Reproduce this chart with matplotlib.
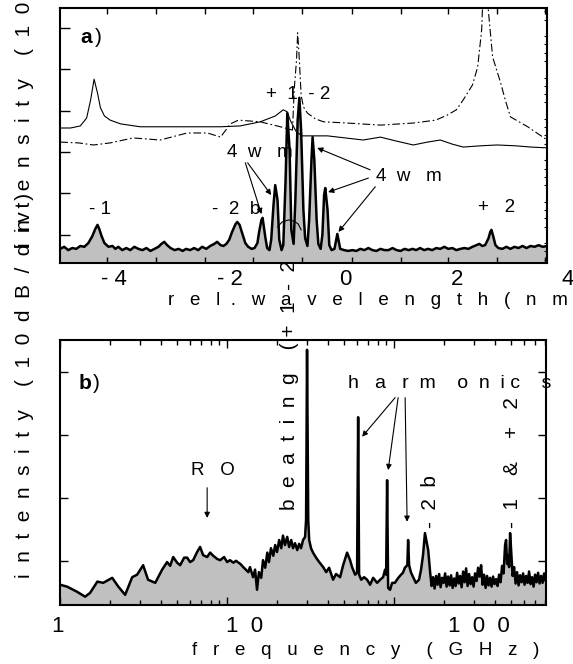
import matplotlib.pyplot as plt
import numpy as np

plt.rcParams['font.family'] = ['Liberation Sans', 'DejaVu Sans']

# ---- (a) optical spectra: relative wavelength (nm) vs level (dB) ----
spec_a_nm = [-4.96, -4.89, -4.82, -4.75, -4.68, -4.61, -4.54, -4.47, -4.40, -4.35,
             -4.31, -4.28, -4.24, -4.19, -4.12, -4.05, -4.00, -3.95, -3.88, -3.81,
             -3.74, -3.67, -3.60, -3.53, -3.46, -3.39, -3.32, -3.25, -3.20, -3.15,
             -3.10, -3.04, -2.97, -2.90, -2.83, -2.77, -2.70, -2.63, -2.56, -2.49,
             -2.42, -2.35, -2.28, -2.23, -2.17, -2.12, -2.07, -2.02, -1.97, -1.91,
             -1.88, -1.84, -1.79, -1.74, -1.69, -1.63, -1.58, -1.53, -1.50, -1.46,
             -1.44, -1.43, -1.39, -1.36, -1.32, -1.29, -1.25, -1.22, -1.18, -1.15,
             -1.11, -1.08, -1.04, -1.01, -0.97, -0.94, -0.90, -0.87, -0.83, -0.80,
             -0.77, -0.73, -0.70, -0.66, -0.63, -0.59, -0.57, -0.54, -0.50, -0.47,
             -0.43, -0.40, -0.37, -0.35, -0.31, -0.28, -0.24, -0.19, -0.16, -0.14,
             -0.12, -0.09, -0.02, 0.05, 0.12, 0.19, 0.26, 0.33, 0.40, 0.47,
             0.54, 0.61, 0.68, 0.75, 0.82, 0.89, 0.96, 1.03, 1.10, 1.17,
             1.23, 1.30, 1.37, 1.44, 1.51, 1.58, 1.65, 1.72, 1.79, 1.86,
             1.93, 2.00, 2.07, 2.14, 2.21, 2.28, 2.33, 2.38, 2.43, 2.49,
             2.52, 2.54, 2.57, 2.61, 2.66, 2.73, 2.80, 2.87, 2.94, 3.01,
             3.08, 3.15, 3.22, 3.29, 3.36, 3.43, 3.51]
spec_a_db = [3.4, 3.9, 3.1, 3.6, 3.4, 4.1, 3.9, 4.8, 6.5, 8.2,
             9.2, 8.2, 6.5, 4.8, 3.9, 4.1, 3.4, 3.9, 3.1, 3.6,
             3.1, 3.9, 3.4, 3.1, 3.6, 2.9, 3.4, 3.9, 4.6, 5.1,
             4.3, 3.6, 3.1, 3.4, 2.9, 3.4, 3.1, 3.6, 3.1, 3.9,
             3.4, 4.1, 4.6, 5.1, 4.3, 4.1, 4.6, 5.6, 7.5, 9.4,
             9.9, 9.2, 7.0, 4.8, 3.9, 3.4, 3.6, 4.8, 7.5, 10.4,
             10.9, 9.9, 6.0, 3.6, 3.1, 5.6, 14.0, 18.8, 15.2, 5.6,
             3.1, 4.3, 20.0, 36.2, 27.3, 8.0, 4.6, 15.2, 34.5, 39.9,
             32.1, 12.8, 6.0, 4.1, 10.4, 24.9, 30.4, 24.9, 10.4, 4.6,
             3.4, 6.8, 16.4, 18.1, 12.8, 4.3, 3.1, 3.4, 5.6, 7.0,
             5.6, 3.4, 3.1, 2.9, 3.1, 2.9, 3.4, 3.1, 3.6, 3.1,
             2.9, 3.4, 3.1, 3.1, 3.6, 3.1, 2.9, 3.4, 3.1, 3.4,
             3.1, 3.6, 3.1, 3.4, 3.1, 3.6, 3.4, 3.9, 3.4, 3.6,
             3.1, 3.4, 3.6, 3.4, 3.9, 4.3, 4.6, 4.1, 4.3, 6.0,
             7.5, 8.0, 6.5, 4.3, 3.6, 3.4, 3.9, 3.4, 3.9, 3.6,
             4.1, 3.6, 4.1, 3.9, 4.3, 3.9, 4.1]

# laser 1 (solid) and laser 2 (dash-dot) reference spectra
solo1_nm = [-4.96, -4.78, -4.61, -4.50, -4.43, -4.37, -4.31, -4.26, -4.19, -4.09,
            -3.91, -3.57, -2.87, -2.17, -1.83, -1.48, -1.22, -1.08, -1.01, -0.96,
            -0.90, -0.85, -0.75, -0.56, -0.31, 0.00, 0.31, 0.61, 0.87, 1.18,
            1.43, 1.65, 1.86, 2.05, 2.35, 2.64, 2.96, 3.22, 3.51]
solo1_db = [32.6, 32.6, 33.1, 35.0, 39.4, 44.4, 41.0, 37.5, 35.5, 34.5,
            33.6, 32.9, 32.9, 32.9, 33.1, 34.1, 35.5, 37.0, 36.5, 34.5,
            32.9, 31.6, 30.7, 30.7, 30.7, 30.2, 29.7, 30.4, 29.5, 28.5,
            29.2, 29.7, 28.7, 28.0, 28.3, 28.5, 28.3, 28.0, 27.8]
solo2_nm = [-4.96, -4.64, -4.38, -4.09, -3.69, -3.22, -2.75, -2.40, -2.17, -2.00,
            -1.86, -1.48, -1.13, -0.92, -0.89, -0.85, -0.83, -0.80, -0.77, -0.73,
            -0.66, -0.52, -0.38, 0.03, 0.61, 1.18, 1.57, 1.77, 1.93, 2.05,
            2.21, 2.30, 2.37, 2.42, 2.47, 2.56, 2.70, 2.78, 2.87, 3.17, 3.51]
solo2_db = [29.2, 29.0, 28.5, 29.0, 30.2, 29.7, 31.4, 31.4, 30.4, 33.6,
            34.5, 34.1, 32.9, 32.1, 41.8, 49.0, 55.6, 49.0, 40.6, 37.7,
            36.2, 34.8, 34.1, 33.8, 33.3, 33.8, 34.5, 35.7, 37.0, 39.4,
            43.0, 47.3, 56.3, 75.0, 63.5, 49.8, 43.5, 39.4, 35.3, 32.9, 29.7]
arc_nm = [-1.18, -1.10, -0.99, -0.89, -0.82, -0.77]
arc_db = [8.7, 9.9, 10.4, 10.1, 9.4, 8.0]

xtick_a = [-4.14, -3.29, -2.44, -1.60, -0.75, 0.12, 0.96, 1.79, 2.63, 3.48]
xlab_a = ['- 4', '- 2', '0', '2', '4']
xlab_a_pos = [-4.03, -2.0, 0.0, 1.95, 3.86]
ytick_a = [6.8, 16.8, 26.8, 36.8, 46.8, 56.8]

# ---- (b) RF spectrum: frequency (GHz) vs level (dB) ----
rf_ghz = [1.00, 1.10, 1.26, 1.41, 1.51, 1.67, 1.81, 2.05, 2.23, 2.45,
          2.70, 2.89, 3.14, 3.36, 3.71, 4.08, 4.37, 4.56, 4.75, 5.02,
          5.23, 5.53, 5.76, 6.00, 6.26, 6.61, 6.89, 7.18, 7.59, 7.91,
          8.25, 8.71, 9.08, 9.59, 10.0, 10.4, 10.9, 11.3, 12.0, 12.6,
          13.4, 13.7, 14.3, 14.7, 15.1, 15.5, 16.0, 16.4, 16.9, 17.4,
          17.8, 18.3, 18.9, 19.4, 19.9, 20.5, 21.1, 21.6, 22.2, 22.9,
          23.5, 24.2, 24.8, 25.5, 26.3, 27.0, 27.7, 28.5, 29.3, 29.7,
          30.1, 30.6, 31.0, 31.8, 32.7, 34.1, 35.6, 37.6, 39.2, 40.8,
          43.1, 44.9, 47.5, 49.5, 52.3, 54.5, 56.0, 58.4, 60.0, 60.9,
          61.7, 63.5, 66.1, 68.9, 71.8, 74.9, 79.1, 82.5, 85.9, 88.3,
          89.6, 90.8, 92.1, 94.6, 97.3, 101, 106, 110, 113, 116,
          120, 121.3, 123, 126, 130, 135, 141, 145, 149, 153,
          158, 160,
          164.3, 167.7, 171.2, 174.8, 178.5, 182.2, 186.1, 189.9, 193.9, 197.9,
          202.1, 206.3, 210.6, 215.0, 219.5, 224.1, 228.8, 233.6, 238.4, 243.4,
          248.5, 253.7, 259.0, 264.4, 269.9, 275.5, 281.3, 287.2, 293.2, 299.2,
          305.5, 311.9, 318.4, 325.1, 331.9, 338.8, 345.8, 353.1, 360.5, 368.0,
          375.7, 383.5, 391.5, 399.7, 408.1, 416.6, 425.3, 434.2, 443.3, 452.5,
          462.0, 468.5, 474.9, 481.5, 488.2, 495.0, 501.9, 512.4, 523.1, 534.0,
          545.1, 556.5, 568.2, 580.1, 592.2, 604.5, 617.2, 630.1, 643.2, 656.7,
          670.4, 684.4, 698.8, 713.4, 728.3, 743.6, 759.1, 775.0, 791.2, 807.8,
          813]
rf_db = [3.2, 2.9, 2.1, 1.3, 1.9, 3.7, 3.5, 4.3, 2.9, 1.6,
         4.4, 4.8, 6.3, 4.0, 3.5, 5.6, 6.8, 6.2, 7.6, 6.7,
         6.3, 7.5, 7.5, 6.8, 7.1, 8.4, 9.2, 7.9, 7.6, 8.3,
         7.8, 7.3, 7.1, 7.6, 6.8, 7.1, 6.7, 7.0, 6.5, 5.9,
         5.2, 6.0, 4.4, 5.6, 2.4, 5.2, 4.3, 7.1, 5.9, 8.3,
         6.8, 9.0, 7.8, 9.5, 8.4, 10.3, 9.0, 11.0, 9.5, 10.8,
         9.2, 10.3, 9.0, 9.8, 8.7, 9.7, 9.0, 10.3, 10.8, 13.5,
         40.5, 13.5, 10.3, 9.0, 8.3, 7.5, 6.8, 6.0, 5.2, 5.9,
         4.0, 4.9, 4.4, 6.3, 8.3, 7.1, 6.0, 4.8, 5.1, 29.8,
         4.8, 4.0, 4.4, 4.0, 3.2, 4.3, 3.5, 4.0, 4.4, 5.6,
         4.8, 19.8, 2.7, 2.4, 3.5, 3.5, 4.3, 4.8, 5.1, 5.9,
         6.3, 10.3, 6.3, 5.2, 4.4, 3.5, 4.0, 5.6, 7.9, 11.4,
         9.5, 8.7,
         5.2, 3.0, 4.4, 2.6, 4.6, 3.2, 4.9, 2.8, 4.3, 3.5,
         5.0, 2.9, 4.5, 3.1, 4.7, 2.7, 4.2, 3.0, 5.1, 3.4,
         4.6, 2.8, 5.3, 3.6, 5.8, 3.0, 4.9, 3.3, 4.4, 2.9,
         5.0, 3.8, 5.9, 4.5, 6.3, 3.2, 4.8, 2.7, 4.6, 3.1,
         4.3, 2.9, 4.5, 3.3, 4.1, 3.0, 4.8, 3.6, 6.2, 5.0,
         9.5, 10.3, 6.5, 7.8, 6.0, 11.4, 8.8, 4.6, 6.0, 3.4,
         5.2, 3.1, 4.7, 3.6, 5.0, 3.2, 4.6, 3.5, 5.3, 3.3,
         4.4, 2.9, 4.8, 3.6, 5.1, 3.4, 4.6, 3.5, 5.0, 3.8,
         4.4]

xlab_b = ['1', '1  0', '1  0  0']
xlab_b_pos = [0.97, 12.8, 323]
ytick_b = [7, 17, 27, 37]

GREY = '#c0c0c0'
ylab = 'i  n  t  e  n  s  i  t  y    (  1  0  d  B  /  d  i v  )'

fig = plt.figure(figsize=(5.73, 6.64), dpi=100)
ax_a = fig.add_axes([0.105, 0.604, 0.850, 0.384])
ax_b = fig.add_axes([0.105, 0.089, 0.848, 0.399])
ax_a.set_zorder(2)

# ---------------- panel a ----------------
ax_a.fill_between(spec_a_nm, spec_a_db, 0, color=GREY, lw=0, zorder=1)
ax_a.plot(spec_a_nm, spec_a_db, color='k', lw=1.8, zorder=4)
ax_a.plot(solo1_nm, solo1_db, color='k', lw=0.8, zorder=3)
ax_a.plot(solo2_nm, solo2_db, color='k', lw=0.8, ls=(0, (7, 2.5, 1.5, 2.5)), zorder=3)
ax_a.plot(arc_nm, arc_db, color='k', lw=0.8, zorder=3)
ax_a.set_xlim(-4.96, 3.51)
ax_a.set_ylim(0, 61.6)
ax_a.set_xticks(xtick_a)
ax_a.set_yticks(ytick_a)
ax_a.set_yticks(np.arange(0.8, 61.6, 2.0), minor=True)
ax_a.tick_params(which='both', direction='in', labelbottom=False, labelleft=False)
ax_a.tick_params(axis='x', which='major', top=True, bottom=True, length=4, width=1)
ax_a.tick_params(axis='y', which='major', left=True, right=False, length=7, width=1)
ax_a.tick_params(axis='y', which='minor', left=False, right=True, length=2.5, width=0.8)
for s in ax_a.spines.values():
    s.set_linewidth(1.5)
for pos, lab in zip(xlab_a_pos, xlab_a):
    ax_a.text(pos, -4.1, lab, ha='center', va='center', fontsize=16, clip_on=False)

ax_a.text(0.041, 0.886, 'a', transform=ax_a.transAxes, fontsize=15,
          fontweight='bold', va='center')
ax_a.text(0.072, 0.886, ')', transform=ax_a.transAxes, fontsize=15, va='center')

tk = dict(fontsize=13.5, ha='center', va='center', zorder=2)
ax_a.text(-4.26, 12.8, '- 1', **tk)
ax_a.text(-1.90, 12.8, '-  2  b', **tk)
ax_a.text(2.63, 13.3, '+   2', **tk)
ax_a.text(-0.82, 40.6, '+  1  - 2', **tk)
ax_a.text(-1.48, 26.6, '4  w   m', **tk)
ax_a.text(1.10, 20.8, '4  w   m', **tk)

arr = dict(arrowstyle='-|>', color='k', lw=0.8, mutation_scale=8,
           shrinkA=0, shrinkB=0)
for start, end in [((-1.70, 24.2), (-1.29, 16.4)),
                   ((-1.74, 24.2), (-1.46, 11.8)),
                   ((0.43, 22.5), (-0.49, 27.8)),
                   ((0.40, 20.5), (-0.30, 17.1)),
                   ((0.52, 18.4), (-0.12, 7.5))]:
    ax_a.annotate('', xy=end, xytext=start, arrowprops=arr, zorder=5)

# ---------------- panel b ----------------
ax_b.fill_between(rf_ghz, rf_db, 0, color=GREY, lw=0, zorder=1)
ax_b.plot(rf_ghz, rf_db, color='k', lw=1.8, zorder=4)
ax_b.set_xscale('log')
ax_b.set_xlim(1, 813)
ax_b.set_ylim(0, 42.06)
ax_b.set_yticks(ytick_b)
ax_b.tick_params(which='both', direction='in', top=True, right=True,
                 labelbottom=False, labelleft=False)
ax_b.tick_params(which='major', length=6, width=1)
ax_b.tick_params(which='minor', length=3.5, width=1)
for s in ax_b.spines.values():
    s.set_linewidth(1.5)
for pos, lab in zip(xlab_b_pos, xlab_b):
    ax_b.text(pos, -3.5, lab, ha='center', va='center', fontsize=16, clip_on=False)

ax_b.text(0.037, 0.834, 'b', transform=ax_b.transAxes, fontsize=15,
          fontweight='bold', va='center')
ax_b.text(0.068, 0.834, ')', transform=ax_b.transAxes, fontsize=15, va='center')

ax_b.text(8.25, 21.4, 'R   O', fontsize=13.5, ha='center', va='center')
ax_b.annotate('', xy=(7.59, 13.8), xytext=(7.59, 18.6), arrowprops=arr)
ax_b.text(216, 35.1, 'h   a   r  m    o  n  i c    s', fontsize=14,
          ha='center', va='center')
for start, end in [((101.4, 32.9), (64.3, 26.7)),
                   ((105.7, 32.9), (92.1, 21.4)),
                   ((116.4, 32.9), (119.6, 13.2))]:
    ax_b.annotate('', xy=end, xytext=start, arrowprops=arr, zorder=5)

rot = dict(rotation=90, ha='center', va='bottom', fontsize=15, clip_on=False)
ax_b.text(23.5, 15.1, 'b  e  a  t  i  n  g    ( +  1  -  2 )', **rot)
ax_b.text(164.3, 12.2, '-  2  b', **rot)
ax_b.text(509, 12.2, '-  1    &    +   2', **rot)

# axis labels
fig.text(0.293, 0.5467, 'r   e   l  .   w   a   v   e   l   e   n   g   t   h   (   n   m',
         fontsize=13.5, ha='left', va='center')
fig.text(0.335, 0.0136, 'f   r   e   q   u   e   n   c   y     (   G   H   z   )',
         fontsize=13.5, ha='left', va='baseline')
fig.text(0.042, (664 - 578) / 664, ylab, rotation=90, fontsize=15,
         ha='center', va='bottom')
fig.text(0.042, (664 - 247) / 664, ylab, rotation=90, fontsize=15,
         ha='center', va='bottom')

fig.savefig('out.png', dpi=100)
